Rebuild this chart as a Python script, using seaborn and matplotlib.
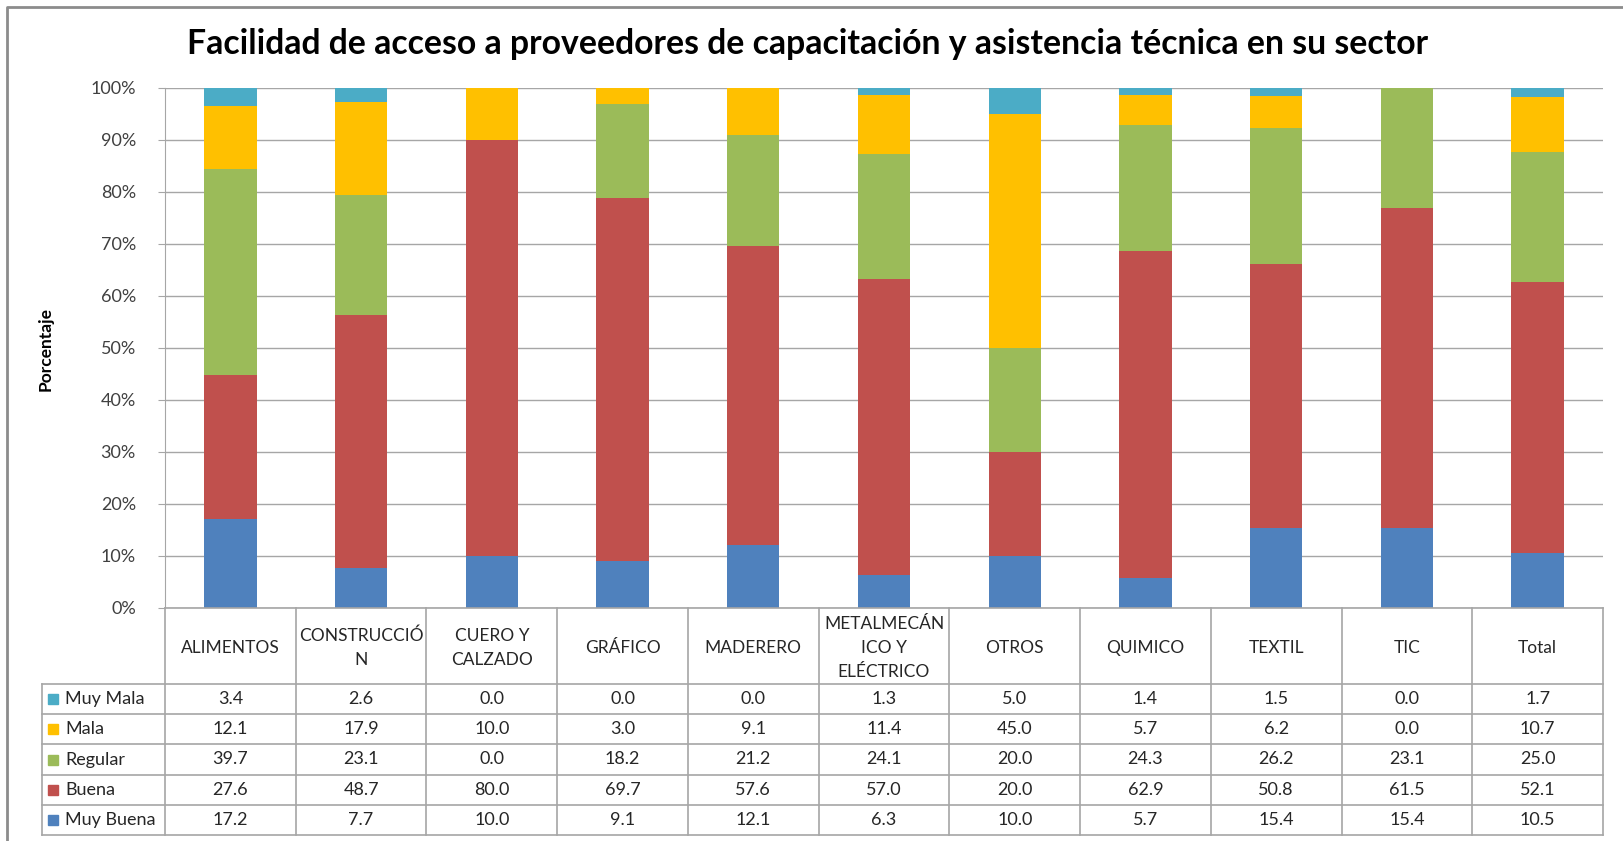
import numpy as np
import pandas as pd
import matplotlib
matplotlib.use("Agg")
import matplotlib.pyplot as plt
import seaborn as sns

sectores = ["ALIMENTOS", "CONSTRUCCIÓN", "CUERO Y CALZADO", "GRÁFICO", "MADERERO",
            "METALMECÁNICO Y ELÉCTRICO", "OTROS", "QUIMICO", "TEXTIL", "TIC", "Total"]
# header text as it wraps in the table
cabeceras = ["ALIMENTOS", "CONSTRUCCIÓ\nN", "CUERO Y\nCALZADO", "GRÁFICO", "MADERERO",
             "METALMECÁN\nICO Y\nELÉCTRICO", "OTROS", "QUIMICO", "TEXTIL", "TIC", "Total"]

muy_buena = [17.2, 7.7, 10.0, 9.1, 12.1, 6.3, 10.0, 5.7, 15.4, 15.4, 10.5]
buena = [27.6, 48.7, 80.0, 69.7, 57.6, 57.0, 20.0, 62.9, 50.8, 61.5, 52.1]
regular = [39.7, 23.1, 0.0, 18.2, 21.2, 24.1, 20.0, 24.3, 26.2, 23.1, 25.0]
mala = [12.1, 17.9, 10.0, 3.0, 9.1, 11.4, 45.0, 5.7, 6.2, 0.0, 10.7]
muy_mala = [3.4, 2.6, 0.0, 0.0, 0.0, 1.3, 5.0, 1.4, 1.5, 0.0, 1.7]

categorias = ["Muy Buena", "Buena", "Regular", "Mala", "Muy Mala"]
colores = {"Muy Buena": "#4F81BD", "Buena": "#C0504D", "Regular": "#9BBB59",
           "Mala": "#FFC000", "Muy Mala": "#4BACC6"}

df = pd.DataFrame({"sector": sectores, "Muy Buena": muy_buena, "Buena": buena,
                   "Regular": regular, "Mala": mala, "Muy Mala": muy_mala})
df = df.set_index("sector")
# 100% stacked: normalise each sector
pct = df[categorias].div(df[categorias].sum(axis=1), axis=0) * 100
cum = pct.cumsum(axis=1)

W, H = 1623, 841
fig = plt.figure(figsize=(W / 100, H / 100), dpi=100)
fuente = "Lato"
gris = "#404040"

def fx(px):
    return px / W

def fy(py):
    return 1 - py / H

x0, x1, y_top, y_zero = 165, 1603, 88, 608
ax = fig.add_axes([fx(x0), fy(y_zero), fx(x1 - x0), (y_zero - y_top) / H])

# draw from the top layer down so each cumulative bar covers the one behind
for cat in reversed(categorias):
    sns.barplot(x=cum.index, y=cum[cat].values, color=colores[cat], width=0.4,
                saturation=1, ax=ax, zorder=3, edgecolor="none")

ax.set_ylim(0, 100)
ax.set_xlim(-0.5, len(sectores) - 0.5)
ax.set_yticks(np.arange(0, 101, 10))
ax.set_yticklabels([f"{v}%" for v in range(0, 101, 10)], fontfamily=fuente,
                   fontsize=13, color=gris)
ax.set_xticks([])
ax.set_xlabel("")
ax.yaxis.grid(True, color="#a6a6a6", lw=1, zorder=0)
for s in ["top", "right", "bottom"]:
    ax.spines[s].set_visible(False)
ax.spines["left"].set_color("#a6a6a6")
ax.tick_params(axis="y", length=5, color="#a6a6a6", pad=16)
ax.set_ylabel("")

fig.text(fx(46), fy(349), "Porcentaje", rotation=90, ha="center", va="center",
         fontfamily=fuente, fontweight="bold", fontsize=12.5, color="black")
fig.text(fx(808), fy(44), "Facilidad de acceso a proveedores de capacitación y asistencia técnica en su sector",
         ha="center", va="center", fontfamily=fuente, fontweight="bold", fontsize=24.3, color="black")

# data table below the chart
tax = fig.add_axes([0, 0, 1, 1])
tax.set_xlim(0, W)
tax.set_ylim(H, 0)
tax.axis("off")
lc = "#a6a6a6"
col_w = (x1 - x0) / len(sectores)
hdr_bot = 684
row_h = (835 - hdr_bot) / 5
leg_x = 42
tbl_bot = 835

tax.plot([x0, x1], [y_zero, y_zero], color=lc, lw=1.2)
for i in range(len(sectores) + 1):
    xx = x0 + i * col_w
    tax.plot([xx, xx], [y_zero, tbl_bot], color=lc, lw=1.2)
tax.plot([leg_x, leg_x], [hdr_bot, tbl_bot], color=lc, lw=1.2)
for r in range(6):
    yy = hdr_bot + r * row_h
    tax.plot([leg_x, x1], [yy, yy], color=lc, lw=1.2)

for i, h in enumerate(cabeceras):
    tax.text(x0 + (i + 0.5) * col_w, (y_zero + hdr_bot) / 2 + 2, h, ha="center", va="center",
             fontfamily=fuente, fontsize=12.5, color="#262626", linespacing=1.6)

filas = ["Muy Mala", "Mala", "Regular", "Buena", "Muy Buena"]
for r, cat in enumerate(filas):
    yc = hdr_bot + (r + 0.5) * row_h
    tax.add_patch(plt.Rectangle((leg_x + 6, yc - 5), 10, 10, color=colores[cat]))
    tax.text(leg_x + 23, yc, cat, ha="left", va="center", fontfamily=fuente,
             fontsize=13, color="#262626")
    for i, v in enumerate(df[cat].values):
        tax.text(x0 + (i + 0.5) * col_w, yc, f"{v:.1f}", ha="center", va="center",
                 fontfamily=fuente, fontsize=13, color="#262626")

# outer chart frame
tax.plot([7, 7, W], [H, 7, 7], color="#8c8c8c", lw=2)

fig.savefig("out.png", dpi=100)
